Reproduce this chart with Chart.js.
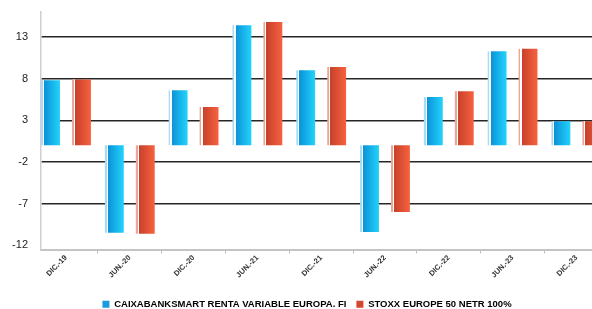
<!DOCTYPE html>
<html>
<head>
<meta charset="utf-8">
<script src="https://cdn.jsdelivr.net/npm/chart.js@4.4.0/dist/chart.umd.min.js"></script>
<style>
  html, body { margin: 0; padding: 0; background: #fff; overflow: hidden; }
  #wrap { width: 592px; height: 309px; position: relative; }
</style>
</head>
<body>
<div id="wrap"><canvas id="chart" width="592" height="309"></canvas></div>
<script>
// periods on the x axis
const periods = ['DIC.-19', 'JUN.-20', 'DIC.-20', 'JUN.-21', 'DIC.-21', 'JUN.-22', 'DIC.-22', 'JUN.-23', 'DIC.-23'];

// returns (%)
const fundValues  = [7.8, -10.5, 6.6, 14.4, 9.0, -10.4, 5.8, 11.3, 2.9];
const indexValues = [7.9, -10.6, 4.6, 14.8, 9.4, -8.0, 6.5, 11.6, 2.9];

const yTicks = [-12, -7, -2, 3, 8, 13];

const seriesNames = ['CAIXABANKSMART RENTA VARIABLE EUROPA. FI', 'STOXX EUROPE 50 NETR 100%'];

const catPct = 0.97;
const barPct = 0.61;

// shaded fill for each bar: thin light stripe on the left, then dark -> bright
function barFill(ctx, light, dark, bright) {
  const chart = ctx.chart;
  const xs = chart.scales.x;
  if (!xs || ctx.type !== 'data') return dark;
  const c = xs.getPixelForValue(ctx.dataIndex);
  const unit = xs.getPixelForValue(1) - xs.getPixelForValue(0);
  const slot = unit * catPct / 2;
  const cx = c + (ctx.datasetIndex === 0 ? -slot / 2 : slot / 2);
  const w = slot * barPct;
  const g = chart.ctx.createLinearGradient(cx - w / 2, 0, cx + w / 2, 0);
  g.addColorStop(0, light);
  g.addColorStop(0.09, light);
  g.addColorStop(0.09, '#ffffff');
  g.addColorStop(0.16, '#ffffff');
  g.addColorStop(0.16, dark);
  g.addColorStop(1, bright);
  return g;
}

const toPoints = vals => vals.map((v, i) => ({ x: i, y: v }));

// legend in the original sits a bit right of centre
const nudgeLegend = {
  id: 'nudgeLegend',
  afterLayout(chart) {
    if (chart.legend) {
      chart.legend.left += 11;
      chart.legend.right += 11;
    }
  }
};

new Chart(document.getElementById('chart'), {
  type: 'bar',
  data: {
    datasets: [{
      label: seriesNames[0],
      data: toPoints(fundValues),
      backgroundColor: ctx => barFill(ctx, '#a9dcf4', '#0b92d9', '#22d3fa'),
      borderWidth: 0,
      categoryPercentage: catPct,
      barPercentage: barPct
    }, {
      label: seriesNames[1],
      data: toPoints(indexValues),
      backgroundColor: ctx => barFill(ctx, '#eaa698', '#c6412a', '#f7613f'),
      borderWidth: 0,
      categoryPercentage: catPct,
      barPercentage: barPct
    }]
  },
  plugins: [nudgeLegend],
  options: {
    responsive: false,
    animation: false,
    devicePixelRatio: 1,
    layout: { padding: { top: 12, left: 0, right: 0, bottom: -10 } },
    scales: {
      x: {
        type: 'linear',
        offset: false,
        min: -0.392,
        max: 8.245,
        afterBuildTicks: s => { s.ticks = periods.map((p, i) => ({ value: i })); },
        afterFit: s => { s.height = 40; s.paddingLeft = 0; s.paddingRight = 0; },
        grid: { drawOnChartArea: false, drawTicks: true, tickLength: 4, color: '#bdbdbd' },
        border: { color: '#c4c4c4', width: 2 },
        ticks: {
          callback: v => periods[v],
          autoSkip: false,
          minRotation: 45,
          maxRotation: 45,
          padding: 0,
          color: '#333',
          font: { family: 'Liberation Sans, Arial, sans-serif', size: 7.5, weight: 'bold' }
        }
      },
      y: {
        min: -12.5,
        max: 16,
        afterBuildTicks: s => { s.ticks = yTicks.map(v => ({ value: v })); },
        afterFit: s => { s.width = 41; s.paddingTop = 0; s.paddingBottom = 0; },
        grid: {
          drawTicks: false,
          color: c => (c.tick && c.tick.value === -12) ? 'rgba(0,0,0,0)' : '#262626',
          lineWidth: 1.5
        },
        border: { color: '#cfcfcf', width: 1.5 },
        ticks: {
          padding: 13,
          color: '#222',
          font: { family: 'Liberation Sans, Arial, sans-serif', size: 11 }
        }
      }
    },
    plugins: {
      tooltip: { enabled: false },
      legend: {
        position: 'bottom',
        labels: {
          boxWidth: 7,
          boxHeight: 7,
          padding: 10,
          color: '#333',
          font: { family: 'Liberation Sans, Arial, sans-serif', size: 9.5, weight: 'bold' },
          generateLabels: chart => {
            const cols = ['#1a9ae0', '#d2472e'];
            return chart.data.datasets.map((d, i) => ({
              text: d.label,
              fillStyle: cols[i],
              strokeStyle: cols[i],
              lineWidth: 0,
              hidden: false,
              datasetIndex: i
            }));
          }
        }
      }
    }
  }
});
</script>
</body>
</html>
